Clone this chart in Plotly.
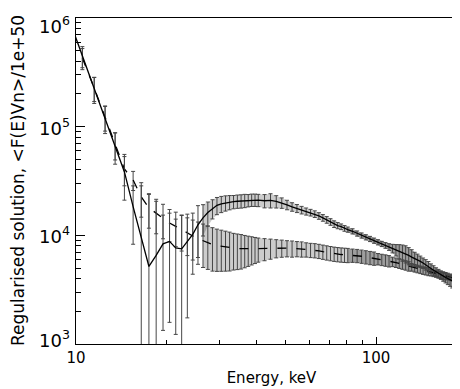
import math
import plotly.graph_objects as go

# ---------------- data ----------------
energy = [9.5, 10.5, 11.5, 12.5, 13.5, 14.5, 15.5, 16.5, 17.5, 18.5, 19.5, 20.5,
          21.5, 22.5, 23.5, 24.5, 25.5, 26.5, 27.5, 28.5, 29.5, 30.5, 31.5, 32.5,
          33.5, 34.5, 35.5, 36.5, 37.5, 38.5, 39.5, 40.5,
          42.5, 44.5, 46.5, 48.5, 50.5, 52.5, 54.5, 56.5, 58.5, 60.5,
          62.5, 64.5, 66.5, 68.5, 70.5, 72.5, 74.5, 76.5, 78.5, 80.5,
          83.5, 86.5, 89.5, 92.5, 95.5, 98.5, 101.5, 104.5, 107.5, 110.5,
          113.5, 116.5, 119.5, 122.5, 125.5, 128.5, 131.5, 134.5, 137.5, 140.5,
          143.5, 146.5, 149.5, 152.5, 155.5, 158.5, 161.5, 164.5, 167.5, 170.5,
          173.5, 176.5, 179.5, 182.5, 185.5, 188.5, 191.5, 194.5, 197.5, 200.5]

solid_flux = [9.63e5, 4.47e5, 2.24e5, 1.20e5, 6.64e4, 3.83e4, 1.84e4, 9.67e3, 5.17e3, 6.53e3,
              8.34e3, 8.79e3, 7.66e3, 7.50e3, 8.70e3, 1.02e4, 1.25e4, 1.45e4, 1.62e4, 1.77e4,
              1.89e4, 1.95e4, 1.99e4, 2.02e4, 2.04e4, 2.06e4, 2.07e4, 2.09e4, 2.10e4, 2.12e4,
              2.12e4, 2.11e4,
              2.08e4, 2.10e4, 2.05e4, 1.99e4, 1.91e4, 1.83e4, 1.77e4, 1.71e4, 1.66e4, 1.62e4,
              1.57e4, 1.51e4, 1.45e4, 1.39e4, 1.33e4, 1.27e4, 1.23e4, 1.20e4, 1.16e4, 1.13e4,
              1.09e4, 1.04e4, 9.97e3, 9.60e3, 9.27e3, 8.94e3, 8.64e3, 8.34e3, 8.08e3, 7.82e3,
              7.58e3, 7.34e3, 7.14e3, 6.96e3, 6.79e3, 6.53e3, 6.30e3, 6.07e3, 5.94e3, 5.75e3,
              5.57e3, 5.38e3, 5.17e3, 4.96e3, 4.77e3, 4.61e3, 4.46e3, 4.32e3, 4.20e3, 4.10e3,
              4.00e3, 3.90e3, 3.81e3, 3.73e3, 3.65e3, 3.57e3, 3.50e3, 3.42e3, 3.35e3, 3.28e3]

solid_relerr = [0.25, 0.22, 0.27, 0.28, 0.32, 0.45, 0.55, 1.95, 3.6, 2.15,
                0.84, 0.82, 0.84, 1.05, 0.80, 0.57, 0.50, 0.32, 0.25, 0.20,
                0.18, 0.17, 0.16, 0.15, 0.14, 0.14, 0.14, 0.14, 0.13, 0.13,
                0.13, 0.13,
                0.14, 0.15, 0.13, 0.11, 0.10, 0.09, 0.085, 0.08, 0.075, 0.07,
                0.07, 0.07, 0.07, 0.07, 0.07, 0.07, 0.065, 0.06, 0.06, 0.055,
                0.055, 0.055, 0.055, 0.055, 0.055, 0.055, 0.055, 0.055, 0.06, 0.07,
                0.09, 0.12, 0.15, 0.17, 0.18, 0.18, 0.17, 0.15, 0.13, 0.12,
                0.11, 0.11, 0.11, 0.10, 0.10, 0.09, 0.09, 0.09, 0.10, 0.11,
                0.12, 0.13, 0.14, 0.15, 0.16, 0.17, 0.18, 0.19, 0.20, 0.20]

dashed_flux = [5.77e5, 4.29e5, 2.27e5, 1.23e5, 6.86e4, 4.08e4, 3.23e4, 2.26e4, 1.79e4, 1.59e4,
               1.43e4, 1.30e4, 1.21e4, 1.12e4, 1.05e4, 9.87e3, 9.33e3, 8.88e3, 8.52e3, 8.22e3,
               8.03e3, 7.91e3, 7.80e3, 7.70e3, 7.61e3, 7.56e3, 7.53e3, 7.50e3, 7.50e3, 7.52e3,
               7.53e3, 7.55e3,
               7.58e3, 7.63e3, 7.66e3, 7.66e3, 7.63e3, 7.58e3, 7.55e3, 7.50e3, 7.42e3, 7.34e3,
               7.29e3, 7.19e3, 7.07e3, 6.96e3, 6.86e3, 6.77e3, 6.71e3, 6.66e3, 6.62e3, 6.59e3,
               6.56e3, 6.51e3, 6.42e3, 6.33e3, 6.24e3, 6.16e3, 6.07e3, 5.98e3, 5.90e3, 5.81e3,
               5.72e3, 5.62e3, 5.51e3, 5.41e3, 5.31e3, 5.20e3, 5.09e3, 4.99e3, 4.91e3, 4.83e3,
               4.75e3, 4.69e3, 4.62e3, 4.55e3, 4.48e3, 4.42e3, 4.35e3, 4.30e3, 4.23e3, 4.18e3,
               4.13e3, 4.07e3, 4.02e3, 3.97e3, 3.93e3, 3.89e3, 3.86e3, 3.82e3, 3.79e3, 3.77e3]

dashed_relerr = [0.22, 0.22, 0.25, 0.26, 0.28, 0.30, 0.20, 0.35, 0.35, 0.35,
                 0.35, 0.33, 0.35, 0.36, 0.38, 0.40, 0.42, 0.43, 0.43, 0.43,
                 0.42, 0.41, 0.40, 0.39, 0.37, 0.36, 0.35, 0.33, 0.31, 0.29,
                 0.27, 0.25,
                 0.23, 0.21, 0.19, 0.18, 0.17, 0.17, 0.16, 0.16, 0.15, 0.15,
                 0.15, 0.15, 0.15, 0.15, 0.15, 0.15, 0.15, 0.15, 0.15, 0.15,
                 0.14, 0.14, 0.14, 0.14, 0.14, 0.14, 0.12, 0.12, 0.12, 0.12,
                 0.10, 0.10, 0.10, 0.10, 0.10, 0.10, 0.08, 0.08, 0.08, 0.08,
                 0.08, 0.08, 0.08, 0.07, 0.07, 0.07, 0.07, 0.07, 0.07, 0.07,
                 0.05, 0.05, 0.05, 0.05, 0.05, 0.05, 0.05, 0.05, 0.05, 0.05]

x_major = [10, 100]
x_major_text = ["10", "100"]
x_minor = [20, 30, 40, 50, 60, 70, 80, 90, 200]
y_major = [1e3, 1e4, 1e5, 1e6]
y_major_text = ["10<sup>3</sup>", "10<sup>4</sup>", "10<sup>5</sup>", "10<sup>6</sup>"]
y_minor = [k * 10 ** d for d in (3, 4, 5) for k in range(2, 10)]

x_title = "Energy, keV"
y_title = "Regularised solution, &lt;F(E)Vn&gt;/1e+50"

# ---------------- figure ----------------
solid_err = [f * r for f, r in zip(solid_flux, solid_relerr)]
dashed_err = [f * r for f, r in zip(dashed_flux, dashed_relerr)]

FONT = "DejaVu Sans"
BAR = "rgb(70,70,70)"
fig = go.Figure()

# shaded envelopes (the reference's dense error bars read as a grey band)
segments = [(energy.index(26.5), energy.index(80.5) + 1, "rgba(0,0,0,0.20)"),
            (energy.index(80.5), len(energy), "rgba(0,0,0,0.38)")]
for flux, err in ((dashed_flux, dashed_err), (solid_flux, solid_err)):
    for i0, i1, col in segments:
        xs = energy[i0:i1]
        up = [f + e for f, e in zip(flux[i0:i1], err[i0:i1])]
        lo = [f - e for f, e in zip(flux[i0:i1], err[i0:i1])]
        fig.add_trace(go.Scatter(x=xs, y=up, mode="lines", line=dict(width=0),
                                 hoverinfo="skip", showlegend=False))
        fig.add_trace(go.Scatter(x=xs, y=lo, mode="lines", line=dict(width=0),
                                 fill="tonexty", fillcolor=col,
                                 hoverinfo="skip", showlegend=False))

fig.add_trace(go.Scatter(
    x=energy, y=dashed_flux, mode="lines",
    line=dict(color="black", width=1.3, dash="9px,10px"),
    error_y=dict(type="data", array=dashed_err, color=BAR, thickness=1, width=2),
    showlegend=False))
fig.add_trace(go.Scatter(
    x=energy, y=solid_flux, mode="lines",
    line=dict(color="black", width=1.3),
    error_y=dict(type="data", array=solid_err, color=BAR, thickness=1, width=2),
    showlegend=False))

axis_common = dict(
    type="log", showgrid=False, zeroline=False,
    showline=True, linecolor="black", linewidth=1,
    ticks="inside", tickcolor="black", tickwidth=1,
)

fig.update_xaxes(
    **axis_common,
    range=[1 - 1e-5, math.log10(201)],
    tickmode="array", tickvals=x_major, ticktext=x_major_text, ticklen=7,
    tickfont=dict(family=FONT, size=15, color="black"),
    mirror=True,
    minor=dict(tickmode="array", tickvals=x_minor, ticks="inside", ticklen=4,
               tickcolor="black", showgrid=False),
    title=dict(text=x_title, font=dict(family=FONT, size=15, color="black"), standoff=6),
)
fig.update_yaxes(
    **axis_common,
    range=[3 - 1e-5, 6 + 1e-5],
    tickmode="array", tickvals=y_major, ticklen=9,
    showticklabels=False,
    mirror="ticks",
    minor=dict(tickmode="array", tickvals=y_minor, ticks="inside", ticklen=5,
               tickcolor="black", showgrid=False),
)

# y tick labels as text placed at the decade positions (IDL-like vertical nudges)
label_nudge = [5, 0, 0, -7]
for v, txt, dy in zip(y_major, y_major_text, label_nudge):
    fig.add_annotation(x=0, xref="paper", y=math.log10(v), yref="y",
                       text=txt, showarrow=False, xanchor="right", yanchor="middle",
                       xshift=-4, yshift=dy,
                       font=dict(family=FONT, size=18, color="black"))

# y-axis title, rotated, at the far left like the reference
fig.add_annotation(x=0, xref="paper", y=0.5, yref="paper", text=y_title,
                   textangle=-90, showarrow=False, xanchor="center", yanchor="middle",
                   xshift=-58, font=dict(family=FONT, size=17, color="black"))

fig.update_layout(
    width=460, height=389,
    margin=dict(l=68, r=1, t=10, b=53, autoexpand=False),
    paper_bgcolor="white", plot_bgcolor="white",
    showlegend=False,
)

fig.write_html("out.html")
